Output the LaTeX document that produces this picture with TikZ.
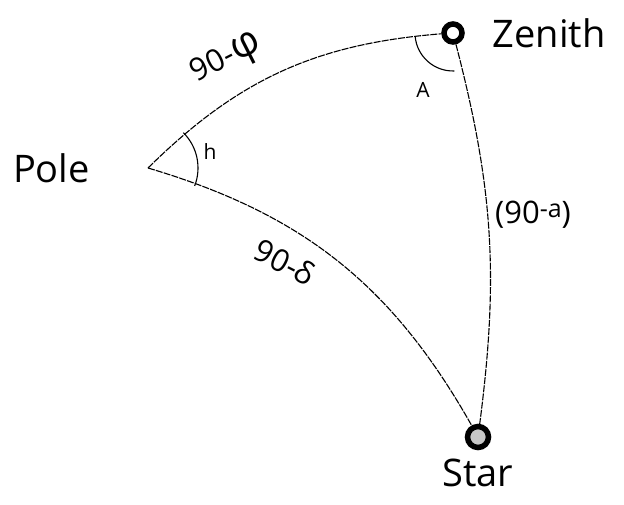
\documentclass[tikz,border=0pt]{standalone}
\usepackage{fontspec}
\setmainfont{Open Sans}
\usepackage{tikz}
\usetikzlibrary{positioning}
\newcommand{\csName}{\fontsize{38}{44}\selectfont}
\newcommand{\csHand}{\fontsize{31}{34}\selectfont}
\newcommand{\csBig}{\fontsize{40}{44}\selectfont}
\newcommand{\csSup}{\fontsize{25}{28}\selectfont}
\newcommand{\csSmall}{\fontsize{21}{24}\selectfont}
\tikzset{
  %% the two marked points on the sphere: heavy rings, the star one a bit larger
  celpt/.style={circle, draw=black, line width=5.5pt, fill=white,
    inner sep=0pt, minimum size=#1},
  %% great-circle arcs, a little broken as on the scanned sheet
  celarc/.style={draw=black, line width=1.1pt, dash pattern=on 7pt off 1.2pt},
  celangle/.style={draw=black, line width=1.1pt},
  celname/.style={font=\csName, inner sep=0pt},
  cellbl/.style={font=\csHand, inner sep=1pt},
  celang/.style={font=\csSmall, inner sep=1pt},
}

\begin{document}
\begin{tikzpicture}[x=1pt, y=1pt]
\useasboundingbox (0,0) rectangle (624,504);

%% --- the three corners of the triangle ------------------------------
\coordinate (pole) at (148,336);
\node[celpt=18pt] (zen) at (453,471) {};
\node[celpt=21pt, fill=black!22] (star) at (478,67) {};

\node[celname, right=28pt of zen]  (zenname)  {Zenith};
\node[celname, left=58pt of pole]  (polename) {Pole};
\node[celname, below=9pt of star]  (starname) {Star};

%% --- sides ------------------------------------------------------------
\draw[celarc] (pole) to[bend left=20] (zen);
\draw[celarc] (pole) to[bend left=22] (star);
\draw[celarc] (zen)  to[bend left=11] (star);

%% --- angles at pole and zenith ----------------------------------------
\draw[celangle] ([shift={(-21:50)}]pole) arc[start angle=-21, end angle=45, radius=50];
\draw[celangle] ([shift={(185:38)}]zen.center) arc[start angle=185, end angle=272, radius=38];

\node[celang] (hlbl) at (210,352) {h};
\node[celang] (albl) at (423,414) {A};

%% --- side labels ------------------------------------------------------
\node[cellbl, rotate=27]  (phlbl) at (227,444) {90-{\csBig φ}};
\node[cellbl, rotate=-27] (dllbl) at (285,242) {90-δ};
\node[cellbl] (allbl) at (533,289) {(90\raisebox{6pt}{\csSup-a})};

\end{tikzpicture}
\end{document}
